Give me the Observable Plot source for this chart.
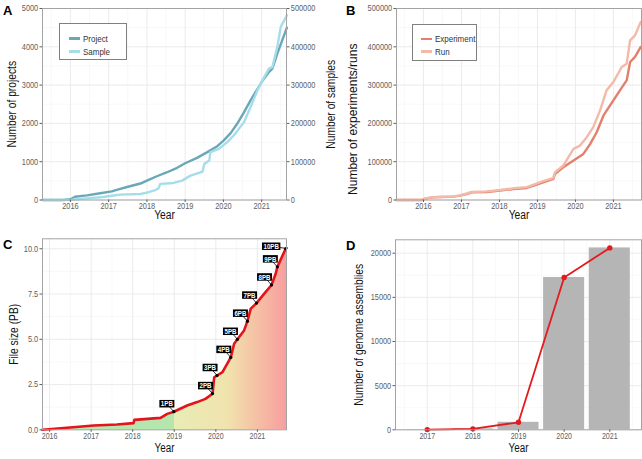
<!DOCTYPE html>
<html><head><meta charset="utf-8">
<script src="https://cdn.jsdelivr.net/npm/d3@7"></script>
<script src="https://cdn.jsdelivr.net/npm/@observablehq/plot@0.6"></script>
<style>
body{margin:0;background:#fff;}
#root{position:relative;width:642px;height:459px;overflow:hidden;background:#fff;font-family:"Liberation Sans",Arial,sans-serif;}
.panel{position:absolute;}
.letter{position:absolute;font-family:"Liberation Sans",Arial,sans-serif;font-weight:bold;font-size:13px;line-height:13px;color:#000;}
.legend{position:absolute;border:1px solid #808080;background:#fff;box-sizing:border-box;}
.key{position:absolute;height:2.6px;}
.ltext{position:absolute;font-size:9.5px;line-height:11px;color:#333;white-space:nowrap;transform:scaleX(0.84);transform-origin:0 50%;}
</style>
</head><body>
<div id="root"></div>
<script>
// ---------- data ----------
const projectYear  = [2015.27, 2015.8, 2016.0, 2016.12, 2016.43, 2016.78, 2017.08, 2017.21, 2017.48, 2017.83, 2018.0, 2018.26, 2018.53, 2018.79, 2019.0, 2019.31, 2019.58, 2019.84, 2020.01, 2020.19, 2020.36, 2020.54, 2020.71, 2021.0, 2021.19, 2021.28, 2021.41, 2021.66];
const projectCount = [0, 0, 20, 85, 120, 175, 225, 262, 340, 430, 505, 620, 725, 840, 960, 1100, 1250, 1405, 1555, 1745, 1990, 2295, 2600, 3080, 3340, 3430, 3820, 4500];

const sampleYear  = [2015.27, 2016.0, 2016.34, 2016.78, 2017.04, 2017.3, 2017.83, 2018.0, 2018.22, 2018.3, 2018.35, 2018.7, 2018.92, 2019.14, 2019.4, 2019.45, 2019.5, 2019.63, 2019.66, 2019.88, 2020.1, 2020.27, 2020.54, 2020.71, 2020.89, 2021.06, 2021.19, 2021.28, 2021.41, 2021.5, 2021.66];
const sampleCount = [0, 0, 3500, 7000, 10500, 14000, 15700, 19200, 26000, 30000, 42000, 44500, 50600, 63700, 72400, 73500, 94200, 103000, 124800, 133500, 151000, 168400, 203300, 242600, 286200, 319400, 343000, 347000, 400000, 452000, 482500];

const experimentYear  = [2015.29, 2015.95, 2016.1, 2016.26, 2016.79, 2016.96, 2017.14, 2017.27, 2017.66, 2018.02, 2018.37, 2018.72, 2018.9, 2019.15, 2019.42, 2019.46, 2019.68, 2019.95, 2020.21, 2020.39, 2020.56, 2020.74, 2021.0, 2021.22, 2021.35, 2021.44, 2021.57, 2021.72];
const experimentCount = [0, 0, 5000, 7000, 8700, 11300, 15700, 20000, 21000, 24400, 28800, 31400, 37500, 46200, 55000, 68000, 85500, 103000, 120400, 146600, 177000, 220800, 260000, 293200, 312400, 360400, 373500, 399600];

const runYear  = [2015.29, 2015.95, 2016.1, 2016.26, 2016.79, 2016.96, 2017.14, 2017.27, 2017.66, 2018.02, 2018.37, 2018.72, 2018.9, 2019.15, 2019.42, 2019.46, 2019.68, 2019.95, 2020.12, 2020.3, 2020.47, 2020.65, 2020.82, 2021.0, 2021.22, 2021.35, 2021.44, 2021.57, 2021.72];
const runCount = [0, 0, 5000, 7500, 9000, 12000, 17000, 21000, 22500, 26000, 30500, 33500, 40000, 49000, 58000, 72000, 90000, 133500, 142000, 164000, 190200, 233900, 286200, 308000, 347300, 356000, 417000, 430000, 465000];

const sizeYear = [2015.83, 2016.42, 2017.06, 2017.62, 2018.02, 2018.04, 2018.67, 2018.83, 2018.99, 2019.31, 2019.55, 2019.75, 2019.92, 2019.96, 2020.03, 2020.16, 2020.36, 2020.44, 2020.52, 2020.68, 2020.76, 2020.84, 2020.98, 2021.16, 2021.34, 2021.44, 2021.48, 2021.68, 2021.7];
const sizePB   = [0, 0.11, 0.24, 0.29, 0.37, 0.55, 0.66, 0.88, 1.0, 1.34, 1.53, 1.71, 1.99, 2.9, 3.0, 3.19, 4.0, 4.75, 5.0, 5.49, 6.0, 6.69, 7.0, 7.51, 8.0, 8.62, 9.0, 10.0, 10.05];

const milestoneLabel = ["1PB","2PB","3PB","4PB","5PB","6PB","7PB","8PB","9PB","10PB"];
const milestoneYear  = [2018.99, 2019.92, 2020.03, 2020.36, 2020.52, 2020.76, 2020.98, 2021.34, 2021.48, 2021.68];
const milestoneValue = [1, 2, 3, 4, 5, 6, 7, 8, 9, 10];

const gradientYear  = [2015.8, 2019.0, 2019.0, 2020.3, 2020.8, 2021.3, 2021.7];
const gradientColor = ["#b4e6ae", "#b4e6ae", "#e9ecb5", "#f0e3ae", "#f4caa7", "#f6b2a2", "#f89e9e"];

const assemblyYear  = [2017, 2018, 2019, 2020, 2021];
const assemblyCount = [25, 110, 850, 17250, 20600];

const yearTicks       = [2016, 2017, 2018, 2019, 2020, 2021];
const projectTicks    = [0, 1000, 2000, 3000, 4000, 5000];
const experimentTicks = [0, 100000, 200000, 300000, 400000, 500000];
const sizeTicks       = [0, 2.5, 5, 7.5, 10];
const assemblyTicks   = [0, 5000, 10000, 15000, 20000];
const assemblyYearTicks = [2017, 2018, 2019, 2020, 2021];
const SAMPLE_PER_PROJECT = 100;

// ---------- helpers ----------
const FONT = '"Liberation Sans",Arial,sans-serif';
const SQUEEZE = 0.82;
const zip = (xs, ys, kx, ky) => xs.map((x, i) => ({[kx]: x, [ky]: ys[i]}));
const style = {fontFamily: FONT, fontSize: "9px", background: "transparent", color: "#5e5e5e", overflow: "visible"};
function minors(ticks, domain) {
  const step = ticks[1] - ticks[0];
  const ext = [ticks[0] - step, ...ticks, ticks[ticks.length - 1] + step];
  const m = [];
  for (let i = 0; i < ext.length - 1; i++) m.push((ext[i] + ext[i + 1]) / 2);
  return m.filter(v => v > domain[0] && v < domain[1]);
}
function grid(xt, xd, yt, yd) {
  return [
    Plot.ruleX(minors(xt, xd), {stroke: "#f4f4f4", strokeWidth: 0.6}),
    Plot.ruleY(minors(yt, yd), {stroke: "#f4f4f4", strokeWidth: 0.6}),
    Plot.ruleX(xt.filter(v => v >= xd[0] && v <= xd[1]), {stroke: "#e9e9e9", strokeWidth: 0.9}),
    Plot.ruleY(yt, {stroke: "#e9e9e9", strokeWidth: 0.9})
  ];
}
const axisOpts = {tickSize: 2.5, tickPadding: 1.8, fontSize: 9, label: null};
function xTitle(t, dy, fontSize = 12.5) { return Plot.text([t], {text: d => d, frameAnchor: "bottom", dy, fontSize, fill: "#111"}); }
function yTitle(t, dx, dy = 0, anchor = "left", fontSize = 12.5) {
  return Plot.text([t], {text: d => d, frameAnchor: anchor, textAnchor: "middle", rotate: -90, dx, dy, fontSize, fill: "#111"});
}

const root = document.getElementById("root");
function place(el, left, top) { el.classList.add("panel"); el.style.left = left + "px"; el.style.top = top + "px"; root.appendChild(el); }
function div(cls, css, text) { const d = document.createElement("div"); d.className = cls; Object.assign(d.style, css); if (text) d.textContent = text; root.appendChild(d); return d; }
// condense text horizontally (reference uses a narrow sans face)
function condense(svg, skip) {
  svg.querySelectorAll("text").forEach(t => {
    if (t.hasAttribute("textLength") || skip.includes(t.textContent)) return;
    const L = t.getComputedTextLength();
    if (L > 0) { t.setAttribute("textLength", L * SQUEEZE); t.setAttribute("lengthAdjust", "spacingAndGlyphs"); }
  });
}

// ---------- Panel A ----------
const xA = [2015.27, 2021.65], yA = [0, 5000];
const plotA = Plot.plot({
  width: 340, height: 230, marginLeft: 42, marginRight: 54, marginTop: 8, marginBottom: 30.5,
  x: {domain: xA}, y: {domain: yA}, style,
  marks: [
    ...grid(yearTicks, xA, projectTicks, yA),
    Plot.line(zip(projectYear, projectCount, "year", "value"), {x: "year", y: "value", stroke: "#6aa8b8", strokeWidth: 2.4}),
    Plot.line(zip(sampleYear, sampleCount, "year", "value"), {x: "year", y: d => d.value / SAMPLE_PER_PROJECT, stroke: "#a5dde8", strokeWidth: 2.4}),
    Plot.frame({stroke: "#a3a3a3"}),
    Plot.axisX(yearTicks, {...axisOpts, tickPadding: 0, tickFormat: d => String(d)}),
    Plot.axisY(projectTicks, {...axisOpts, anchor: "left", tickFormat: d => String(d)}),
    Plot.axisY(projectTicks, {...axisOpts, anchor: "right", tickFormat: d => String(d * SAMPLE_PER_PROJECT)}),
    xTitle("Year", 19),
    yTitle("Number of projects", -31),
    yTitle("Number of samples", 44, 0, "right")
  ]
});
place(plotA, 0, 0);

// ---------- Panel B ----------
const xB = [2015.29, 2021.74], yB = [0, 500000];
const plotB = Plot.plot({
  width: 302, height: 230, marginLeft: 56, marginRight: 1, marginTop: 8, marginBottom: 30.5,
  x: {domain: xB}, y: {domain: yB}, style,
  marks: [
    ...grid(yearTicks, xB, experimentTicks, yB),
    Plot.line(zip(experimentYear, experimentCount, "year", "value"), {x: "year", y: "value", stroke: "#e3806d", strokeWidth: 2.4}),
    Plot.line(zip(runYear, runCount, "year", "value"), {x: "year", y: "value", stroke: "#f4baa9", strokeWidth: 2.4}),
    Plot.frame({stroke: "#a3a3a3"}),
    Plot.axisX(yearTicks, {...axisOpts, tickPadding: 0, tickFormat: d => String(d)}),
    Plot.axisY(experimentTicks, {...axisOpts, anchor: "left", tickFormat: d => String(d)}),
    xTitle("Year", 19),
    yTitle("Number of experiments/runs", -43, 15, "left", 12)
  ]
});
place(plotB, 340, 0);

// ---------- Panel C ----------
const xC = [2015.83, 2021.7], yC = [0, 10.55];
const sizeData = zip(sizeYear, sizePB, "year", "pb");
const milestones = milestoneLabel.map((l, i) => ({label: l, year: milestoneYear[i], pb: milestoneValue[i]}));
const NS = "http://www.w3.org/2000/svg";
function gradientMark(index, scales, values, dims) {
  const defs = document.createElementNS(NS, "defs");
  const lg = document.createElementNS(NS, "linearGradient");
  lg.setAttribute("id", "gradC");
  lg.setAttribute("gradientUnits", "userSpaceOnUse");
  lg.setAttribute("x1", 0); lg.setAttribute("x2", dims.width);
  lg.setAttribute("y1", 0); lg.setAttribute("y2", 0);
  gradientYear.forEach((yr, i) => {
    const s = document.createElementNS(NS, "stop");
    s.setAttribute("offset", Math.max(0, Math.min(1, scales.x(yr) / dims.width)));
    s.setAttribute("stop-color", gradientColor[i]);
    lg.appendChild(s);
  });
  defs.appendChild(lg);
  return defs;
}
const measureCtx = document.createElement("canvas").getContext("2d");
function labelMark(index, scales, values, dims) {
  const g = document.createElementNS(NS, "g");
  measureCtx.font = "bold 7.5px " + FONT;
  milestones.forEach((m, i) => {
    const px = scales.x(m.year), py = scales.y(m.pb);
    const last = i === milestones.length - 1;
    const tw = measureCtx.measureText(m.label).width * SQUEEZE;
    const w = tw + 3, h = 7.5;
    const cx = last ? px - 14 : px - 6.5;
    const cy = last ? py - 2 : py - 7.5;
    const ln = document.createElementNS(NS, "line");
    ln.setAttribute("x1", px); ln.setAttribute("y1", py); ln.setAttribute("x2", cx); ln.setAttribute("y2", cy);
    ln.setAttribute("stroke", "#000"); ln.setAttribute("stroke-width", 0.8);
    g.appendChild(ln);
    const r = document.createElementNS(NS, "rect");
    r.setAttribute("x", cx - w / 2); r.setAttribute("y", cy - h / 2);
    r.setAttribute("width", w); r.setAttribute("height", h); r.setAttribute("fill", "#000");
    g.appendChild(r);
    const t = document.createElementNS(NS, "text");
    t.setAttribute("x", cx); t.setAttribute("y", cy + 2.7);
    t.setAttribute("text-anchor", "middle"); t.setAttribute("fill", "#fff");
    t.setAttribute("font-size", "7.5px"); t.setAttribute("font-weight", "bold"); t.setAttribute("font-family", FONT);
    t.setAttribute("textLength", tw); t.setAttribute("lengthAdjust", "spacingAndGlyphs");
    t.textContent = m.label;
    g.appendChild(t);
  });
  return g;
}
const plotC = Plot.plot({
  width: 320, height: 229, marginLeft: 42, marginRight: 34, marginTop: 8.3, marginBottom: 29.7,
  x: {domain: xC}, y: {domain: yC}, style,
  marks: [
    ...grid(yearTicks, xC, sizeTicks, yC),
    gradientMark,
    Plot.areaY(sizeData, {x: "year", y: "pb", fill: "url(#gradC)"}),
    Plot.line(sizeData, {x: "year", y: "pb", stroke: "#e3141b", strokeWidth: 2.6}),
    labelMark,
    Plot.dot(milestones, {x: "year", y: "pb", r: 1.6, fill: "#000"}),
    Plot.frame({stroke: "#a3a3a3"}),
    Plot.axisX(yearTicks, {...axisOpts, tickPadding: 1, fontSize: 8.6, tickFormat: d => String(d)}),
    Plot.axisY(sizeTicks, {...axisOpts, anchor: "left", tickFormat: d3.format(".1f")}),
    xTitle("Year", 22.5, 12),
    yTitle("File size (PB)", -29)
  ]
});
place(plotC, 0, 230);

// ---------- Panel D ----------
const xD = [2016.305, 2021.695], yD = [0, 21518];
const assemblyData = zip(assemblyYear, assemblyCount, "year", "count");
const plotD = Plot.plot({
  width: 322, height: 229, marginLeft: 75, marginRight: 1, marginTop: 9.3, marginBottom: 29.7,
  x: {domain: xD}, y: {domain: yD}, style,
  marks: [
    ...grid(assemblyYearTicks, xD, assemblyTicks, yD),
    Plot.rectY(assemblyData, {x1: d => d.year - 0.45, x2: d => d.year + 0.45, y: "count", fill: "#b5b5b5"}),
    Plot.line(assemblyData, {x: "year", y: "count", stroke: "#e41a1c", strokeWidth: 1.8}),
    Plot.dot(assemblyData, {x: "year", y: "count", r: 2.7, fill: "#e41a1c"}),
    Plot.frame({stroke: "#a3a3a3"}),
    Plot.axisX(assemblyYearTicks, {...axisOpts, tickPadding: 1, fontSize: 8.6, tickFormat: d => String(d)}),
    Plot.axisY(assemblyTicks, {...axisOpts, anchor: "left", tickFormat: d => String(d)}),
    xTitle("Year", 22.5, 12),
    yTitle("Number of genome assemblies", -36.5)
  ]
});
place(plotD, 320, 230);

[plotA, plotB, plotC, plotD].forEach(s => condense(s, ["Number of experiments/runs"]));

// ---------- panel letters ----------
div("letter", {left: "3px", top: "4px"}, "A");
div("letter", {left: "346px", top: "4px"}, "B");
div("letter", {left: "3px", top: "238px"}, "C");
div("letter", {left: "346px", top: "239px"}, "D");

// ---------- legends ----------
function legend(left, top, w, h, items) {
  div("legend", {left: left + "px", top: top + "px", width: w + "px", height: h + "px"});
  items.forEach(it => {
    div("key", {left: it.kx + "px", top: (it.ky - 1.3) + "px", width: "11px", background: it.color});
    div("ltext", {left: it.tx + "px", top: (it.ky - 5.8) + "px"}, it.label);
  });
}
legend(59, 23.3, 68, 37, [
  {label: "Project", color: "#6aa8b8", kx: 69, ky: 38.3, tx: 82.5},
  {label: "Sample", color: "#a5dde8", kx: 69, ky: 51.5, tx: 82.5}
]);
legend(412.3, 24.3, 64.5, 37, [
  {label: "Experiment", color: "#e3806d", kx: 421, ky: 39, tx: 435},
  {label: "Run", color: "#f4baa9", kx: 421, ky: 51.5, tx: 435}
]);
</script>
</body></html>
